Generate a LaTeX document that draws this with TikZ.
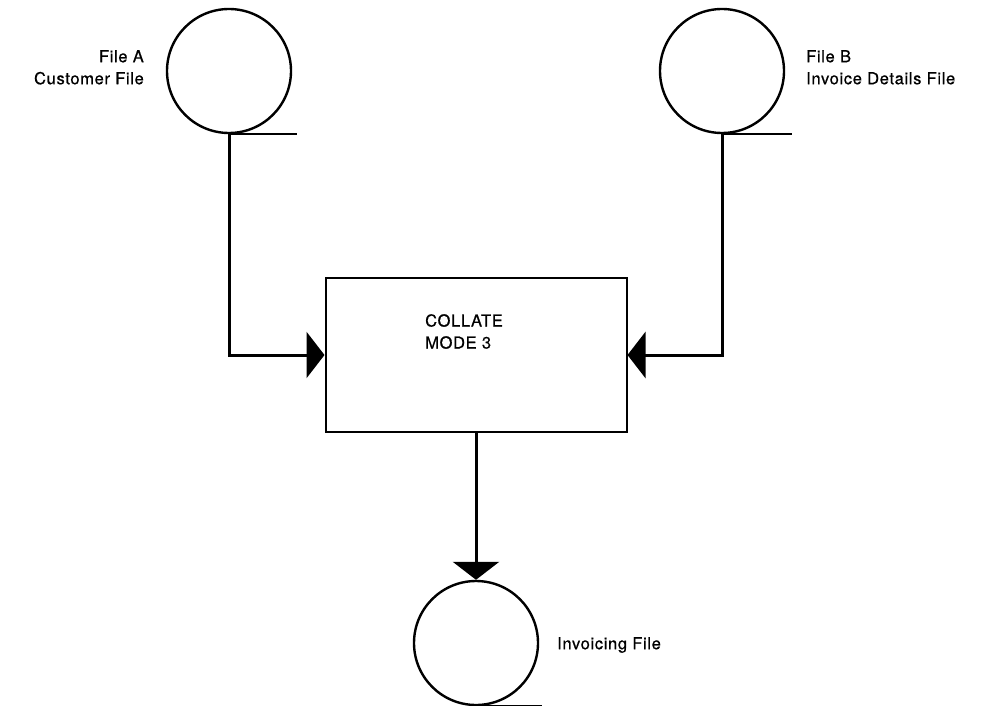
\documentclass[tikz,border=0pt]{standalone}
\usepackage{fontspec}
\setmainfont{TeX Gyre Heros}[LetterSpace=4,FakeBold=0.6]
\usetikzlibrary{arrows.meta}
\begin{document}
\begin{tikzpicture}[x=1pt,y=-1pt,
  tape/.style={circle,draw,line width=2.4pt,minimum size=124pt,inner sep=0pt},
  procbox/.style={rectangle,draw,line width=2pt,minimum width=301pt,minimum height=154pt},
  flow/.style={line width=3pt,-{Triangle[length=18pt,width=46pt]}},
  tail/.style={line width=2.4pt},
  lbl/.style={font=\fontsize{16.5}{22}\selectfont,inner sep=0pt}]
\useasboundingbox (0,0) rectangle (993,706);
\node[tape] (A) at (229,71) {};
\node[tape] (B) at (722,71) {};
\node[tape] (C) at (476,643) {};
\node[procbox] (P) at (476,355) {};
\draw[tail] (A.south) -- ++(68,0) coordinate (ta);
\draw[tail] (B.south) -- ++(70,0) coordinate (tb);
\draw[tail] (C.south) -- ++(66,0) coordinate (tc);
\draw[flow] (A.south) |- (P.west);
\draw[flow] (B.south) |- (P.east);
\draw[flow] (P.south) -- (C.north);
\node[lbl,align=right,anchor=north east] (la) at (144,50) {File A\\Customer File};
\node[lbl,align=left,anchor=north west] (lb) at (806,50) {File B\\Invoice Details File};
\node[lbl,align=left,anchor=north west] (lp) at (425,314) {COLLATE\\MODE 3};
\node[lbl,anchor=west] (lc) at (557,645) {Invoicing File};
\end{tikzpicture}
\end{document}
